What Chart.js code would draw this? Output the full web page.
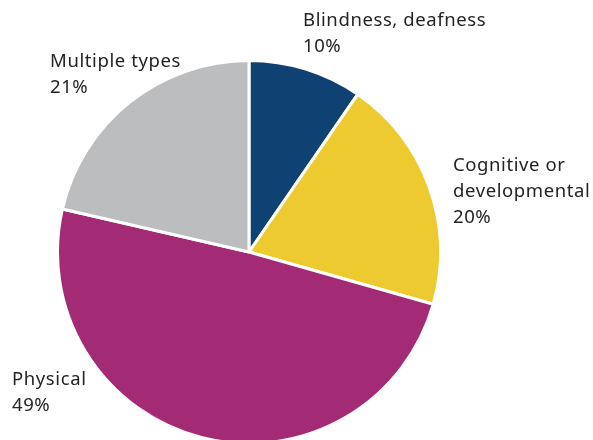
<!DOCTYPE html>
<html>
<head>
<meta charset="utf-8">
<script src="https://cdn.jsdelivr.net/npm/chart.js@4"></script>
<style>
  html, body { margin: 0; padding: 0; background: #fff; overflow: hidden; }
  #wrap { width: 593px; height: 444px; position: relative; }
</style>
</head>
<body>
<div id="wrap"><canvas id="pieChart"></canvas></div>
<script>
// disability types, clockwise from 12 o'clock
const categories = ["Blindness, deafness", "Cognitive or developmental", "Physical", "Multiple types"];
// slice sizes (the printed labels are rounded)
const shares = [9.6, 19.8, 49.2, 21.4];
const shownPercent = [10, 20, 49, 21];
const sliceColors = ["#0f4272", "#edcb30", "#a32a75", "#bcbdbf"];

// how each label is broken into lines, and where its text block starts
const labelLines = [["Blindness, deafness"], ["Cognitive or", "developmental"], ["Physical"], ["Multiple types"]];
const labelAnchors = [[303, 11], [453, 156], [12, 370], [50, 52]];

const outsideLabels = {
  id: "outsideLabels",
  afterDraw(chart) {
    const ctx = chart.ctx;
    ctx.save();
    ctx.font = "18.5px 'Noto Sans'";
    ctx.letterSpacing = "0.6px";
    ctx.fillStyle = "#262223";
    ctx.textBaseline = "top";
    ctx.textAlign = "left";
    chart.data.labels.forEach((lab, i) => {
      const lines = labelLines[i].concat([shownPercent[i] + "%"]);
      const [x, y] = labelAnchors[i];
      lines.forEach((t, j) => ctx.fillText(t, x, y + j * 26));
    });
    ctx.restore();
  }
};

const ctx = document.getElementById("pieChart").getContext("2d");
new Chart(ctx, {
  type: "pie",
  data: {
    labels: categories,
    datasets: [{
      data: shares,
      backgroundColor: sliceColors,
      borderColor: "#ffffff",
      borderWidth: 3
    }]
  },
  options: {
    responsive: true,
    maintainAspectRatio: false,
    animation: false,
    radius: 191.5,
    layout: { padding: { left: 57.5, right: 152.5, top: 60.5, bottom: 0.5 } },
    plugins: {
      legend: { display: false },
      tooltip: { enabled: false }
    }
  },
  plugins: [outsideLabels]
});
</script>
</body>
</html>
